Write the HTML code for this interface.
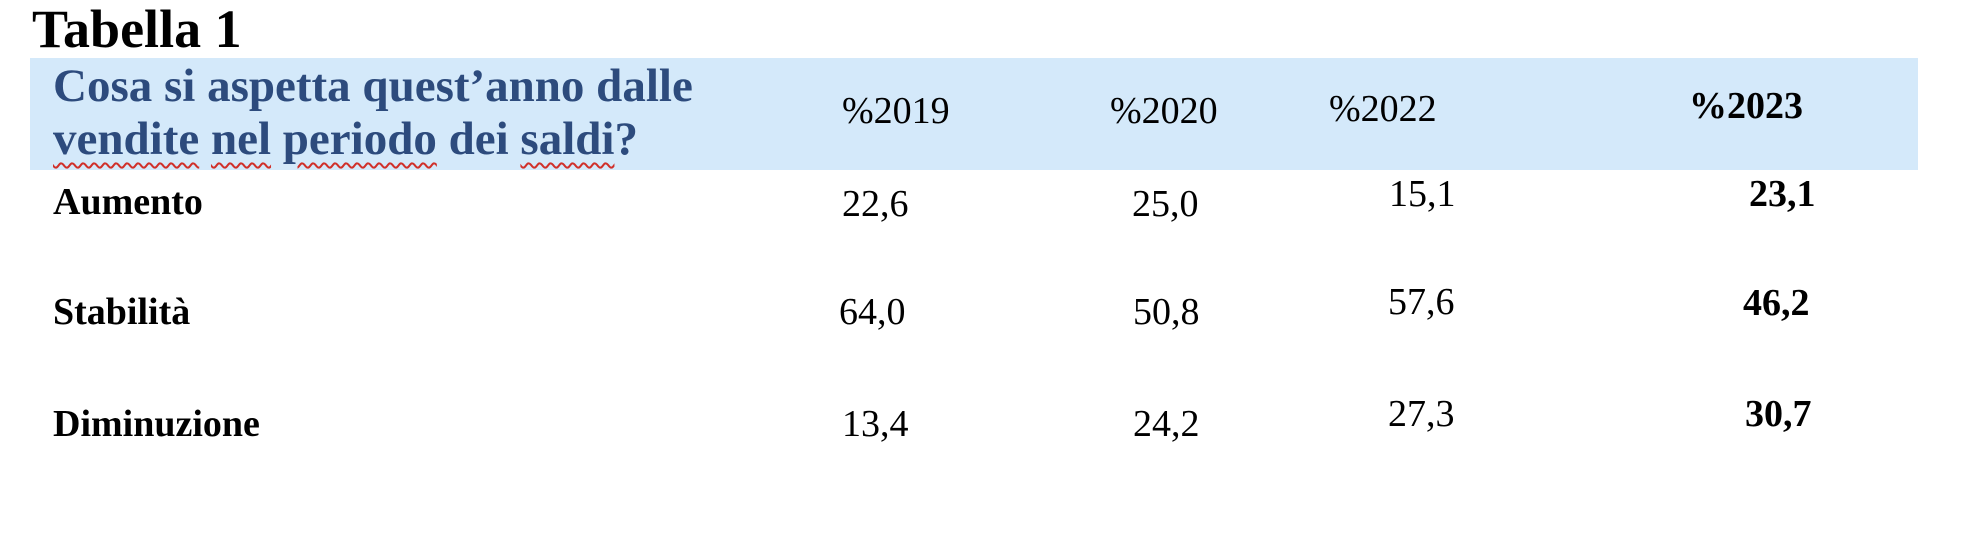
<!DOCTYPE html>
<html><head><meta charset="utf-8"><style>
html,body{margin:0;padding:0;background:#fff;width:1964px;height:538px;overflow:hidden;position:relative}
.t{position:absolute;font-family:"Liberation Serif",serif;line-height:1;white-space:nowrap;font-size:38px;color:#000}
.b{font-weight:bold}
.q{font-size:47px;font-weight:bold;color:#2d4b7d}
.w{text-decoration:underline wavy #d0302a;text-decoration-thickness:2px;text-underline-offset:8px}
</style></head><body>
<div style="position:absolute;left:30px;top:58px;width:1888px;height:112px;background:#d4e9fa"></div>
<div class="t b" style="left:32px;top:2px;font-size:54px">Tabella 1</div>
<div class="t q" style="left:53px;top:63px">Cosa si aspetta quest’anno dalle</div>
<div class="t q" style="left:53px;top:116px"><span class="w">vendite</span> <span class="w">nel</span> <span class="w">periodo</span> dei <span class="w">saldi</span>?</div>
<div class="t" style="left:842px;top:92px">%2019</div>
<div class="t" style="left:1110px;top:92px">%2020</div>
<div class="t" style="left:1329px;top:90px">%2022</div>
<div class="t b" style="left:1689px;top:87px">%2023</div>

<div class="t b" style="left:53px;top:183px">Aumento</div>
<div class="t b" style="left:53px;top:293px">Stabilità</div>
<div class="t b" style="left:53px;top:405px">Diminuzione</div>

<div class="t" style="left:842px;top:185px">22,6</div>
<div class="t" style="left:1132px;top:185px">25,0</div>
<div class="t" style="left:1389px;top:175px">15,1</div>
<div class="t b" style="left:1749px;top:175px">23,1</div>

<div class="t" style="left:839px;top:293px">64,0</div>
<div class="t" style="left:1133px;top:293px">50,8</div>
<div class="t" style="left:1388px;top:283px">57,6</div>
<div class="t b" style="left:1743px;top:284px">46,2</div>

<div class="t" style="left:842px;top:405px">13,4</div>
<div class="t" style="left:1133px;top:405px">24,2</div>
<div class="t" style="left:1388px;top:395px">27,3</div>
<div class="t b" style="left:1745px;top:395px">30,7</div>
</body></html>
